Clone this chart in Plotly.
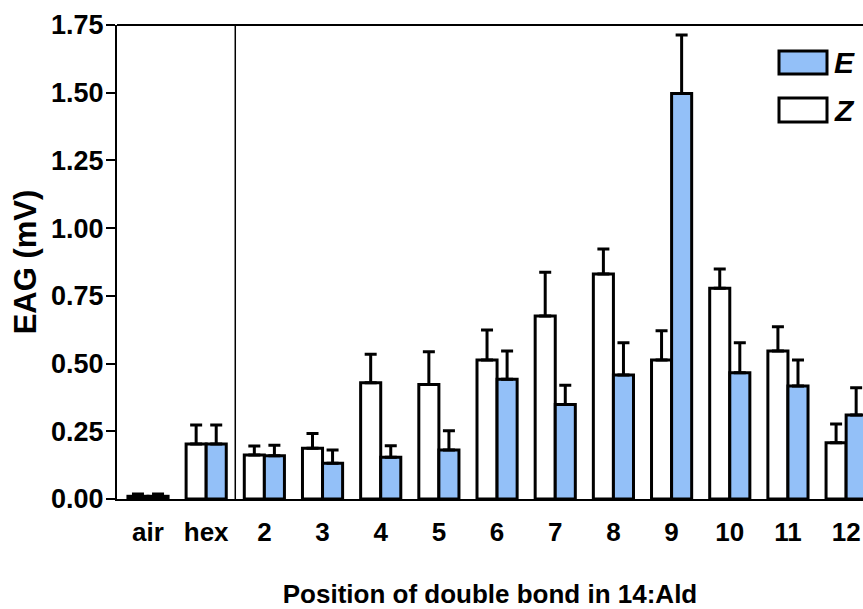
import plotly.graph_objects as go

categories = ["air", "hex", "2", "3", "4", "5", "6", "7", "8", "9", "10", "11", "12"]
z_values = [0.010, 0.203, 0.162, 0.187, 0.429, 0.423, 0.513, 0.676, 0.831, 0.513, 0.778, 0.546, 0.208]
z_errors = [0.008, 0.070, 0.034, 0.055, 0.105, 0.121, 0.111, 0.161, 0.092, 0.108, 0.071, 0.090, 0.069]
e_values = [0.010, 0.203, 0.160, 0.132, 0.154, 0.181, 0.442, 0.349, 0.458, 1.497, 0.466, 0.417, 0.310]
e_errors = [0.008, 0.070, 0.038, 0.049, 0.043, 0.071, 0.104, 0.071, 0.119, 0.216, 0.111, 0.096, 0.101]
y_ticks = [0.0, 0.25, 0.5, 0.75, 1.0, 1.25, 1.5, 1.75]

FONT = "Liberation Sans, Arial, sans-serif"
BLUE = "#93c0f8"
x = list(range(len(categories)))

W, H = 863, 609
ML, MT, MB, MR = 117, 25, 110, 0
PW, PH = W - ML - MR, H - MT - MB

fig = go.Figure()
fig.add_trace(go.Bar(
    x=x, y=z_values, name="Z",
    marker=dict(color="white", line=dict(color="black", width=3)),
    error_y=dict(type="data", array=z_errors, arrayminus=[0] * len(z_errors),
                 symmetric=False, color="black", thickness=3, width=6),
    showlegend=False,
))
fig.add_trace(go.Bar(
    x=x, y=e_values, name="E",
    marker=dict(color=BLUE, line=dict(color="black", width=3)),
    error_y=dict(type="data", array=e_errors, arrayminus=[0] * len(e_errors),
                 symmetric=False, color="black", thickness=3, width=6),
    showlegend=False,
))

fig.update_layout(
    width=W, height=H,
    margin=dict(l=ML, r=MR, t=MT, b=MB),
    paper_bgcolor="white", plot_bgcolor="white",
    barmode="group", bargap=0.31, bargroupgap=0.0,
    font=dict(family=FONT, size=26, color="black"),
)
fig.update_xaxes(
    range=[-0.533, 12.29], automargin=False,
    tickmode="array", tickvals=x, ticktext=categories,
    showgrid=False, zeroline=False,
    showline=True, linecolor="black", linewidth=2,
    ticks="", ticklabelstandoff=9,
    tickfont=dict(family=FONT, size=26, color="black", weight="bold"),
    title=dict(text="<b>Position of double bond in 14:Ald</b>", standoff=48,
               font=dict(family=FONT, size=26, color="black")),
)
fig.update_yaxes(
    range=[0, 1.75], automargin=False,
    tickmode="array", tickvals=y_ticks, ticktext=[f"{v:.2f}" for v in y_ticks],
    showgrid=False, zeroline=False,
    showline=True, linecolor="black", linewidth=2,
    ticks="outside", ticklen=9, tickwidth=2, tickcolor="black",
    ticklabelstandoff=-3,
    tickfont=dict(family=FONT, size=27, color="black", weight="bold"),
    title=dict(text="<b>EAG (mV)</b>", standoff=5,
               font=dict(family=FONT, size=31, color="black")),
)

# top frame line
fig.add_shape(type="line", xref="paper", yref="paper", x0=0, x1=1, y0=1, y1=1,
              line=dict(color="black", width=2))
# separator between controls and compounds
fig.add_shape(type="line", xref="x", yref="paper", x0=1.5, x1=1.5, y0=0, y1=1,
              line=dict(color="black", width=1.5))

# custom legend (positions given in page pixels)
def px_x(p):
    return (p - ML) / PW

def px_y(p):
    return (MT + PH - p) / PH

legend_items = [("E", BLUE, 51, 74), ("Z", "white", 98, 122)]
for label, color, ytop, ybot in legend_items:
    fig.add_shape(type="rect", xref="paper", yref="paper",
                  x0=px_x(779), x1=px_x(827), y0=px_y(ybot), y1=px_y(ytop),
                  fillcolor=color, line=dict(color="black", width=3))
    fig.add_annotation(xref="paper", yref="paper", x=px_x(832), y=px_y((ytop + ybot) / 2),
                       text=f"<b><i>{label}</i></b>", showarrow=False,
                       xanchor="left", yanchor="middle",
                       font=dict(family=FONT, size=30, color="black"))

fig.write_html(
    "out.html",
    config={"displayModeBar": False},
    post_script="document.body.style.margin='0';document.body.style.overflow='hidden';",
)
